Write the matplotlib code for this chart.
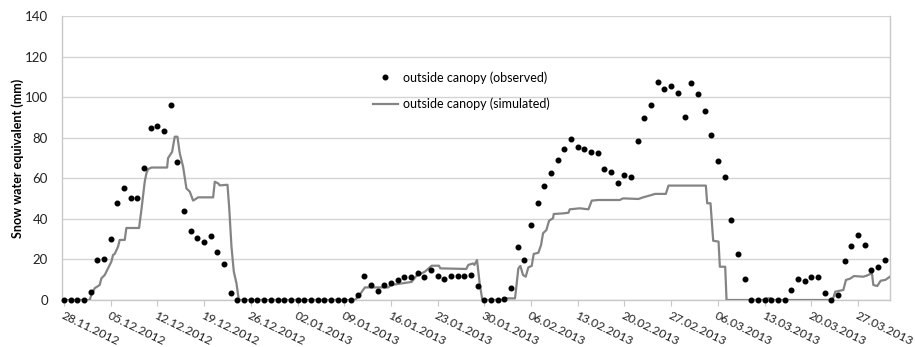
import matplotlib
matplotlib.use("Agg")
import matplotlib.pyplot as plt
import matplotlib.dates as mdates
import numpy as np
import pandas as pd

plt.rcParams['font.family'] = ['Lato', 'DejaVu Sans']

start = pd.Timestamp('2012-11-28')

# observed daily SWE (mm), 28.11.2012 - 31.03.2013
obs_swe = [0, 0, 0, 0, 4.1, 19.6, 20.2, 30, 47.8, 55.4, 50.5, 50.5, 65, 84.8, 86, 83.5,
           96, 67.9, 43.9, 34, 30.7, 28.8, 31.7, 23.8, 17.9, 3.6,
           0, 0, 0, 0, 0, 0, 0, 0, 0, 0, 0, 0, 0, 0, 0, 0, 0, 0,
           2.5, 12, 7.2, 4.4, 7.2, 8.4, 9.9, 11.5, 11.3, 13.2, 11.3, 14.8, 11.8, 10.5,
           11.8, 11.7, 12, 12.3, 7.1,
           0, 0, 0,
           0.5, 5.8, 26.1, 19.6, 37.1, 47.7, 56.4, 62.6, 69, 74.5, 79.5, 75.4, 74.6, 73,
           72.6, 64.8, 63.1, 57.8, 61.5, 60.5, 78.6, 89.7, 96, 107.6, 104.2, 105.4, 102,
           90.2, 106.8, 101.6, 93.3, 81.2, 68.6, 60.7, 39.4, 22.7, 10.2,
           0, 0, 0, 0, 0, 0,
           5.1, 10.2, 9.4, 11.3, 11.2, 3.3, 0, 2.5, 19.1, 26.5, 32, 27, 14.6, 16.4, 19.6]
obs_dates = pd.date_range(start, periods=len(obs_swe), freq='D')

# simulated SWE (mm): time in days since 28.11.2012 and value
sim_day = [0, 3.85, 4.1, 4.6, 5.35, 5.6, 6.1, 6.6, 7.1, 7.35, 7.6, 8.1, 8.35, 9.1, 9.35,
           11.25, 11.6, 12.1, 12.35, 12.6, 13.1, 15.45, 15.6, 16.2, 16.6, 17.0, 17.35,
           17.85, 18.35, 18.85, 19.35, 19.6, 20.1, 22.35, 22.6, 23.1, 23.35, 24.5, 24.75,
           25.1, 25.45, 25.85, 26.2, 43.6, 44.3, 45.1, 48.6, 49.0, 52.1, 52.8, 54.1, 55.1,
           56.2, 56.4, 60.3, 60.6, 61.3, 61.5, 61.9, 62.3, 62.7, 66.0, 66.2, 67.6, 68.1,
           68.4, 68.8, 69.2, 69.6, 70.1, 70.4, 71.1, 71.5, 71.8, 72.3, 72.7, 73.3, 73.4,
           74.8, 75.6, 75.8, 77.3, 78.6, 79.1, 80.1, 83.3, 83.8, 86.1, 86.8, 88.1, 88.6,
           90.2, 90.6, 96.2, 96.4, 96.9, 97.3, 98.1, 98.3, 99.1, 99.3, 105.0, 105.3, 105.9,
           106.1, 115.2, 115.6, 116.3, 116.8, 117.2, 117.8, 118.4, 119.8, 120.3, 121.1,
           121.3, 121.9, 122.4, 123.1, 123.8]
sim_swe = [0, 0, 2.5, 5.8, 7.4, 10.7, 12.3, 15.6, 18.9, 22.2, 22.7, 26.3, 29.6, 29.6, 35.5,
           35.5, 44.4, 58.3, 62.5, 64.5, 65.3, 65.3, 70, 73, 80.5, 80.5, 72.3,
           65.7, 55, 53.4, 49, 49.5, 50.6, 50.6, 58.3, 57.5, 56.5, 56.8, 46,
           26.3, 14, 8.2, 0, 0, 2.5, 6.2, 6.2, 7.4, 8.9, 11.8, 14, 16.9,
           16.9, 15.6, 15.3, 17.3, 18, 17.3, 19.7, 8.2, 0, 0, 0.8, 0.8, 15.6,
           16.8, 12.3, 11.5, 16.1, 16.8, 22.7, 23.3, 27.1, 32.9, 34.5, 39.1, 40.3, 42.4,
           42.7, 43.0, 44.7, 45.2, 44.7, 49, 49.3, 49.3, 50.1, 49.8, 50.6, 51.8, 52.3,
           52.3, 56.4, 56.4, 47.7, 47.7, 29.2, 28.8, 16.4, 16.4, 0, 0, 0.8, 0.8,
           0, 0, 4.1, 4.6, 4.9, 9.9, 10.5, 11.8, 11.5, 12.0, 13.2,
           7.4, 6.9, 9.5, 9.9, 11.5]
sim_dates = start + pd.to_timedelta(sim_day, unit='D')

tick_dates = pd.date_range(start, '2013-03-27', freq='7D')

fig = plt.figure(figsize=(9.15, 3.47), dpi=100)
ax = fig.add_axes([62/915, 1-300/347, 828/915, 284/347])

ax.plot(sim_dates, sim_swe, color='#848484', lw=1.6, label='outside canopy (simulated)', zorder=3)
ax.plot(obs_dates, obs_swe, 'o', color='black', ms=3.3, label='outside canopy (observed)',
        clip_on=False, zorder=4)

ax.set_ylim(0, 140)
ax.set_yticks(np.arange(0, 141, 20))
ax.set_xlim(start - pd.Timedelta(days=0.3), start + pd.Timedelta(days=123.8))
ax.set_xticks(tick_dates)
ax.xaxis.set_major_formatter(mdates.DateFormatter('%d.%m.%Y'))
ax.grid(axis='y', color='#d4d4d4', lw=1)
ax.set_axisbelow(True)
ax.spines['top'].set_visible(False)
for s in ['left', 'bottom', 'right']:
    ax.spines[s].set_color('#c8c8c8')
    ax.spines[s].set_linewidth(1)
ax.tick_params(axis='y', length=0, pad=10, labelsize=9.5, labelcolor='#222222')
ax.tick_params(axis='x', length=4, color='#c8c8c8', pad=3, labelsize=8.8, labelcolor='#222222')
for lab in ax.get_xticklabels():
    lab.set_rotation(-26)
    lab.set_ha('left')
    lab.set_va('top')
    lab.set_rotation_mode('anchor')

ax.set_ylabel('Snow water equivalent (mm)', fontsize=9, fontweight='bold', labelpad=1)

h, l = ax.get_legend_handles_labels()
ax.legend([h[1], h[0]], [l[1], l[0]], loc='upper left', bbox_to_anchor=(0.362, 0.845),
          frameon=False, fontsize=9, labelspacing=1.1, handlelength=2.0, handletextpad=0.4)

fig.savefig('out.png', dpi=100)
